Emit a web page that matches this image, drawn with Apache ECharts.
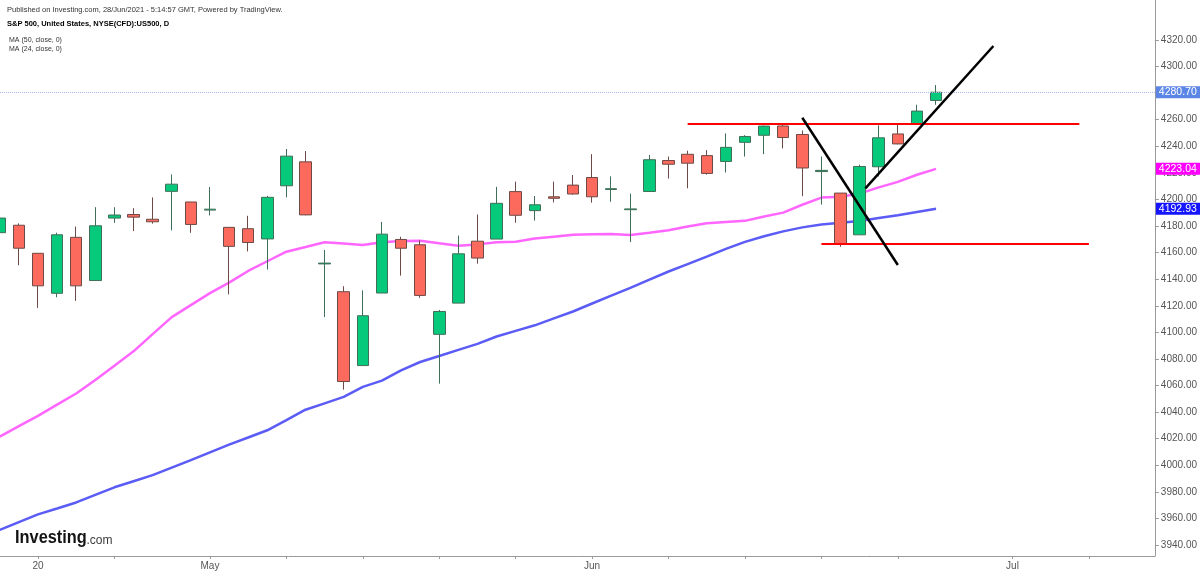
<!DOCTYPE html>
<html>
<head>
<meta charset="utf-8">
<script src="https://cdn.jsdelivr.net/npm/echarts@6/dist/echarts.min.js"></script>
<style>
html,body{margin:0;padding:0;background:#fff;}
#chart{width:1200px;height:575px;}
</style>
</head>
<body>
<div id="chart"></div>
<script>
// ---- data (trading days, index 0 = 16 Apr 2021) ----
var days = ['2021-04-16','2021-04-19','2021-04-20','2021-04-21','2021-04-22','2021-04-23','2021-04-26','2021-04-27','2021-04-28','2021-04-29','2021-04-30',
 '2021-05-03','2021-05-04','2021-05-05','2021-05-06','2021-05-07','2021-05-10','2021-05-11','2021-05-12','2021-05-13','2021-05-14',
 '2021-05-17','2021-05-18','2021-05-19','2021-05-20','2021-05-21','2021-05-24','2021-05-25','2021-05-26','2021-05-27','2021-05-28',
 '2021-06-01','2021-06-02','2021-06-03','2021-06-04','2021-06-07','2021-06-08','2021-06-09','2021-06-10','2021-06-11',
 '2021-06-14','2021-06-15','2021-06-16','2021-06-17','2021-06-18','2021-06-21','2021-06-22','2021-06-23','2021-06-24','2021-06-25'];
var open  = [4175.0,4180.6,4159.5,4129.4,4171.5,4139.0,4186.0,4188.7,4185.1,4206.1,4198.1,
 4192.0,4179.0,4178.0,4170.3,4210.3,4228.3,4151.5,4130.6,4075.0,4129.6,
 4169.9,4165.9,4098.5,4122.0,4168.6,4170.2,4205.9,4191.6,4202.0,4210.8,
 4216.5,4207.5,4192.3,4206.0,4229.3,4234.0,4233.0,4228.6,4243.0,
 4248.3,4255.3,4248.9,4221.0,4204.8,4173.4,4224.6,4249.3,4257.0,4274.5];
var close = [4186.0,4163.3,4135.0,4173.4,4135.0,4180.2,4188.3,4186.7,4183.2,4211.5,4181.2,
 4192.7,4164.7,4167.6,4201.6,4232.6,4188.4,4152.1,4063.0,4112.5,4173.9,
 4163.3,4127.8,4115.7,4159.1,4155.9,4197.1,4188.1,4196.0,4200.9,4204.1,
 4202.0,4208.1,4192.9,4229.9,4226.5,4227.3,4219.6,4239.2,4247.4,
 4255.2,4246.6,4223.7,4221.9,4166.5,4224.8,4246.4,4241.8,4266.5,4280.7];
var low   = [4171.0,4150.5,4118.4,4126.4,4123.7,4138.8,4182.4,4176.2,4181.8,4176.8,4174.9,
 4188.0,4128.6,4160.9,4147.3,4201.6,4188.1,4111.5,4056.9,4075.0,4129.6,
 4142.7,4126.0,4061.4,4122.0,4151.7,4170.2,4182.5,4184.1,4197.8,4203.6,
 4197.6,4198.3,4167.9,4206.0,4215.7,4208.4,4218.7,4220.3,4232.3,
 4234.1,4238.4,4202.5,4196.1,4164.4,4173.4,4217.3,4241.4,4257.0,4271.2];
var high  = [4191.0,4182.0,4159.5,4175.0,4179.6,4194.2,4194.2,4193.4,4201.5,4218.8,4198.1,
 4209.4,4179.0,4187.7,4202.7,4238.0,4236.4,4162.0,4134.7,4131.6,4183.1,
 4171.9,4169.2,4116.9,4172.8,4188.7,4209.5,4213.4,4202.6,4213.4,4218.4,
 4234.1,4217.4,4204.4,4233.5,4232.3,4236.7,4237.1,4249.7,4248.4,
 4255.6,4257.2,4251.9,4232.3,4204.8,4226.2,4255.8,4256.6,4271.3,4286.1];
var ma24 = [4021.5,4029.4,4037.2,4045.6,4054.0,4064.2,4074.9,4085.7,4098.7,4111.5,4120.5,
 4129.5,4137.4,4146.2,4153.5,4160.7,4164.2,4167.8,4166.8,4165.8,4167.8,
 4168.8,4169.0,4167.0,4165.2,4166.2,4167.8,4168.2,4170.6,4172.0,4173.4,
 4173.9,4174.0,4173.3,4174.9,4176.8,4179.6,4182.1,4183.0,4183.9,
 4187.2,4190.1,4196.0,4201.4,4202.0,4204.4,4209.1,4213.2,4218.6,4223.04];
var ma50 = [3951.3,3957.2,3963.0,3967.4,3972.0,3977.7,3983.4,3988.0,3992.6,3998.2,4003.8,
 4009.7,4015.5,4020.9,4026.3,4034.0,4041.8,4046.6,4051.4,4059.0,4063.7,
 4071.4,4077.7,4082.2,4086.8,4091.3,4096.9,4101.1,4105.3,4110.5,4115.7,
 4121.7,4127.6,4133.5,4139.7,4145.8,4151.4,4157.0,4162.8,4168.1,
 4172.3,4176.0,4179.0,4181.2,4182.5,4183.8,4186.1,4188.2,4190.6,4192.93];
// x-axis tick labels (trading-day index -> text)
var xLabelIdx  = [2, 11, 31, 53];
var xLabelText = ['20', 'May', 'Jun', 'Jul'];
var xTickIdx   = [2, 6, 11, 15, 19, 23, 27, 31, 35, 39, 43, 47, 53, 57];
// y-axis tick labels
var yTicks = [3940,3960,3980,4000,4020,4040,4060,4080,4100,4120,4140,4160,4180,4200,4220,4240,4260,4280,4300,4320];
// drawn annotations: [startIdx, startVal, endIdx, endVal]
var redLines   = [[36.0, 4257.0, 56.5, 4257.0], [43.0, 4166.3, 57.0, 4166.3]];
var blackLines = [[42.0, 4261.5, 47.0, 4150.7], [45.3, 4208.4, 52.0, 4315.5]];
var lastPrice = 4280.70;

var FONT = '"Liberation Sans", Arial, sans-serif';
var candleData = days.map(function (d, i) { return [i, open[i], close[i], low[i], high[i]]; });
var ma24Data = ma24.map(function (v, i) { return [i, v]; });
var ma50Data = ma50.map(function (v, i) { return [i, v]; });
function segs(list) {
  return list.map(function (s) { return [{ coord: [s[0], s[1]] }, { coord: [s[2], s[3]] }]; });
}
function boxLabel(bg) {
  return { show: true, position: 'end', distance: 1, color: '#fff', backgroundColor: bg,
    padding: [1, 4, 0, 3], fontSize: 10.5, fontFamily: FONT,
    formatter: function (p) { return Number(p.value).toFixed(2); } };
}

var chart = echarts.init(document.getElementById('chart'), null, { renderer: 'canvas' });
chart.setOption({
  animation: false,
  backgroundColor: '#ffffff',
  grid: { left: 0, right: 44, top: 0, bottom: 19, containLabel: false },
  xAxis: {
    type: 'value', min: 0.0125, max: 60.45,
    splitLine: { show: false },
    axisLine: { show: true, onZero: false, lineStyle: { color: '#9a9a9a', width: 1 } },
    axisTick: { show: true, length: 3, lineStyle: { color: '#9a9a9a' }, customValues: xTickIdx },
    axisLabel: { show: true, margin: 5, color: '#555', fontSize: 10, fontFamily: FONT,
      customValues: xLabelIdx,
      formatter: function (v) { var k = xLabelIdx.indexOf(Math.round(v)); return k >= 0 ? xLabelText[k] : ''; } }
  },
  yAxis: {
    type: 'value', position: 'right', min: 3931.7, max: 4350.1, scale: true,
    splitLine: { show: false },
    axisLine: { show: true, onZero: false, lineStyle: { color: '#9a9a9a', width: 1 } },
    axisTick: { show: true, length: 4, inside: false, lineStyle: { color: '#9a9a9a' }, customValues: yTicks },
    axisLabel: { show: true, margin: 6, color: '#555', fontSize: 10, fontFamily: FONT,
      customValues: yTicks,
      formatter: function (v) { return Number(v).toFixed(2); } }
  },
  series: [
    {
      type: 'line', name: 'MA50', data: ma50Data, showSymbol: false, symbol: 'none', clip: false,
      lineStyle: { color: '#5b5bf6', width: 2.5 }, z: 3, silent: true,
      markLine: { silent: true, symbol: ['none', 'none'], lineStyle: { color: 'rgba(255,255,255,0)', width: 1, type: 'solid' },
        label: boxLabel('#1515ff'), data: [{ yAxis: ma50[ma50.length - 1] }] }
    },
    {
      type: 'line', name: 'MA24', data: ma24Data, showSymbol: false, symbol: 'none', clip: false,
      lineStyle: { color: '#ff66ff', width: 2.5 }, z: 3, silent: true,
      markLine: { silent: true, symbol: ['none', 'none'], lineStyle: { color: 'rgba(255,255,255,0)', width: 1, type: 'solid' },
        label: boxLabel('#ff00ff'), data: [{ yAxis: ma24[ma24.length - 1] }] }
    },
    {
      type: 'candlestick', name: 'US500', data: candleData, barWidth: 12, clip: false, z: 4, silent: true,
      itemStyle: { color: '#07c97b', color0: '#fc6a5e', borderColor: '#3f6f58', borderColor0: '#6d4a45', borderWidth: 1 },
      markLine: { silent: true, symbol: ['none', 'none'],
        lineStyle: { color: '#a9b9f0', type: 'dotted', width: 1 },
        label: boxLabel('#5c86e6'), data: [{ yAxis: lastPrice }] }
    },
    {
      type: 'line', name: 'redlines', data: [], clip: false, silent: true, z: 5,
      markLine: { silent: true, symbol: ['none', 'none'], label: { show: false },
        lineStyle: { color: '#ff0000', width: 2, type: 'solid' }, data: segs(redLines) }
    },
    {
      type: 'line', name: 'blacklines', data: [], clip: false, silent: true, z: 6,
      markLine: { silent: true, symbol: ['none', 'none'], label: { show: false },
        lineStyle: { color: '#000000', width: 2.5, type: 'solid' }, data: segs(blackLines) }
    }
  ],
  graphic: [
    { type: 'text', x: 7, y: 10, style: { text: 'Published on Investing.com, 28/Jun/2021 - 5:14:57 GMT, Powered by TradingView.', font: '7.5px ' + FONT, fill: '#333', verticalAlign: 'middle' } },
    { type: 'text', x: 7, y: 24, style: { text: 'S&P 500, United States, NYSE(CFD):US500, D', font: 'bold 7.5px ' + FONT, fill: '#000', verticalAlign: 'middle' } },
    { type: 'text', x: 9, y: 40.5, style: { text: 'MA (50, close, 0)', font: '7px ' + FONT, fill: '#333', verticalAlign: 'middle' } },
    { type: 'text', x: 9, y: 49.5, style: { text: 'MA (24, close, 0)', font: '7px ' + FONT, fill: '#333', verticalAlign: 'middle' } },
    { type: 'text', x: 15, y: 538.5, scaleX: 0.93, style: { text: 'Investing', font: 'bold 17.6px ' + FONT, fill: '#141414', verticalAlign: 'middle' } },
    { type: 'text', x: 86.5, y: 540.5, style: { text: '.com', font: '12px ' + FONT, fill: '#3a3a3a', verticalAlign: 'middle' } }
  ]
});
</script>
</body>
</html>
